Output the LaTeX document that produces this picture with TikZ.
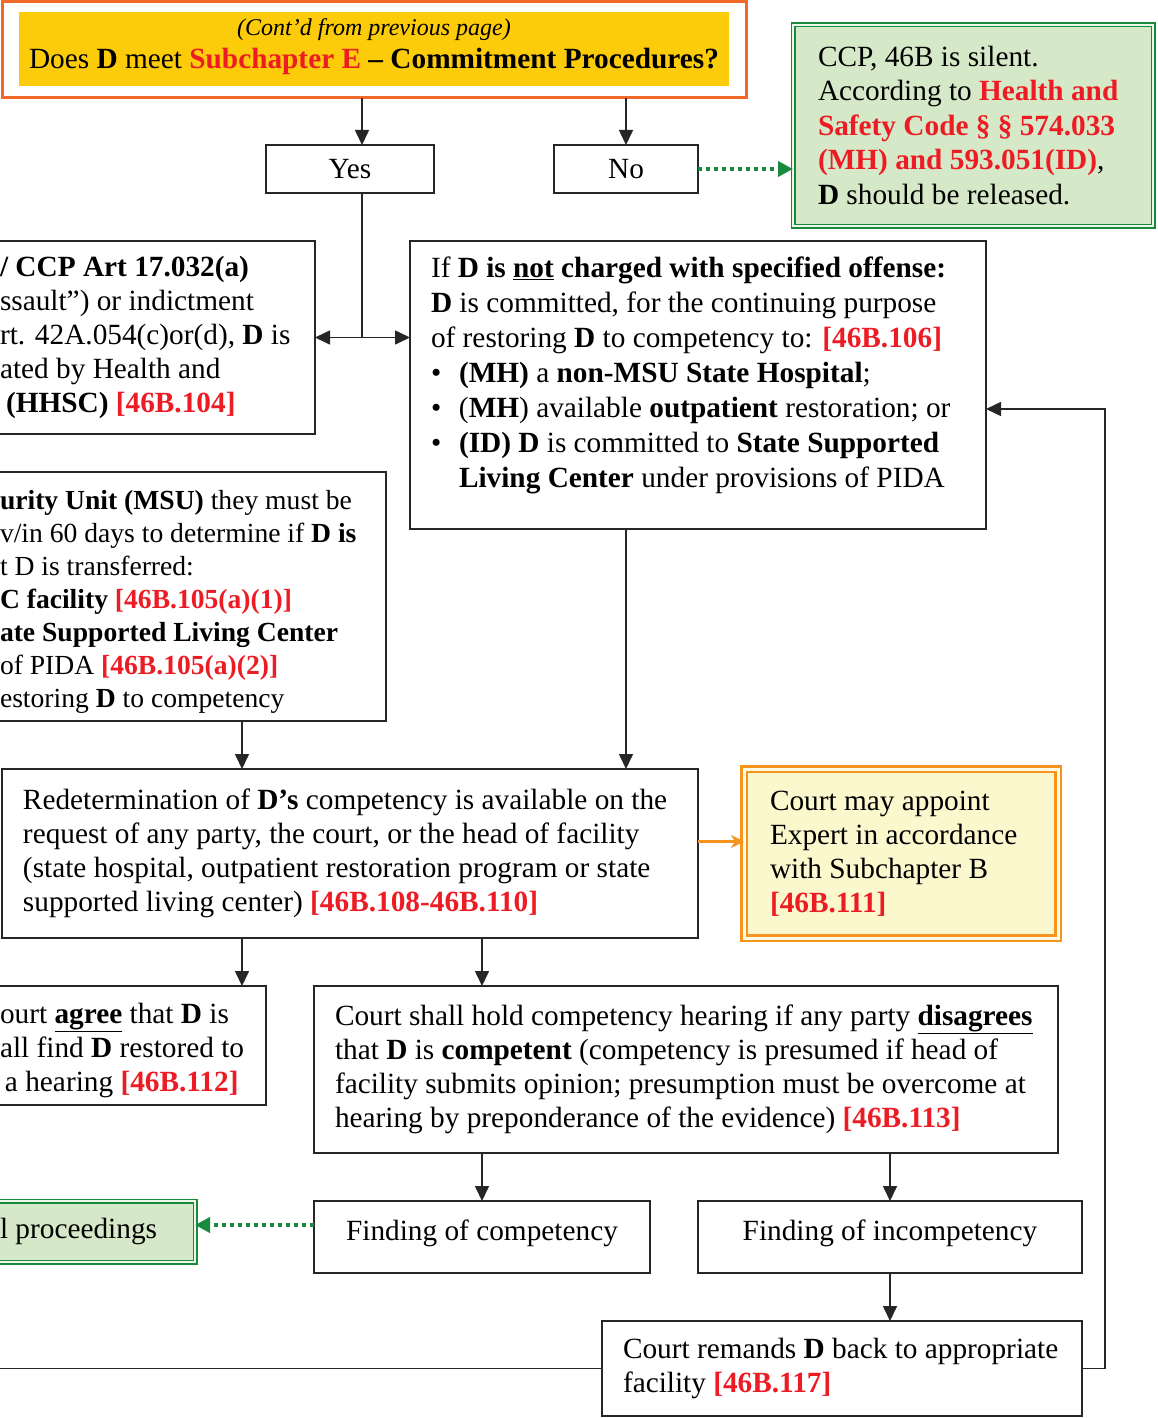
\documentclass[tikz,border=0pt]{standalone}
\usepackage{fontspec}
\setmainfont{Liberation Serif}
\usetikzlibrary{arrows.meta}
\definecolor{lawred}{RGB}{237,28,36}
\definecolor{toporange}{RGB}{242,106,42}
\definecolor{topyellow}{RGB}{252,203,10}
\definecolor{relgreen}{RGB}{23,138,62}
\definecolor{relfill}{RGB}{213,232,200}
\definecolor{expborder}{RGB}{247,148,29}
\definecolor{expfill}{RGB}{252,248,206}
\newcommand{\lawref}[1]{\textcolor{lawred}{\textbf{#1}}}

\begin{document}
\begin{tikzpicture}[x=1pt,y=-1pt,
  box/.style={draw=black!85, line width=1.6pt, outer sep=0pt, inner xsep=21pt, inner ysep=0pt,
    align=flush left, anchor=north west, font=\fontsize{29.3}{34}\selectfont},
  cutbox/.style={box, inner xsep=5pt},
  greenbox/.style={box, draw=relgreen, fill=relfill, double=relfill!40!white, double distance=2pt, line width=1.5pt},
  expbox/.style={box, draw=expborder, fill=expfill, double=expfill!50!white, double distance=3pt, line width=2.5pt},
  topbox/.style={draw=toporange, line width=3pt, fill=white, outer sep=0pt, anchor=north west,
    minimum width=744pt, minimum height=96pt, align=center, font=\fontsize{29.3}{33}\selectfont,
    path picture={\fill[topyellow] ([shift={(17,10)}]path picture bounding box.north west)
      rectangle ([shift={(-17,-12)}]path picture bounding box.south east);}},
  arr/.style={-{Triangle[length=15pt,width=14pt]}, line width=1.6pt, draw=black!85},
  dotarr/.style={-{Triangle[length=15pt,width=15pt]}, line width=4pt, dash pattern=on 4pt off 4pt, draw=relgreen},
  orarr/.style={-{Stealth[length=13pt,width=13pt,inset=4pt]}, line width=2.5pt, draw=expborder}
]
  \path[use as bounding box] (0,0) rectangle (1157,1418);
  \clip (0,0) rectangle (1157,1418);

  % question
  \node[topbox] (q) at (2,2) {{\itshape\fontsize{24}{26}\selectfont (Cont’d from previous page)}\\
    Does \textbf{D} meet \lawref{Subchapter E} \textbf{– Commitment Procedures?}\\[-20pt]\mbox{}};
  \node[box, align=flush center, text width=126pt, minimum height=48pt] (yes) at (266,145) {Yes};
  \node[box, align=flush center, text width=102pt, minimum height=48pt] (no) at (554,145) {No};
  \node[greenbox, text width=310pt, minimum height=201pt, inner xsep=25pt,
    font=\fontsize{29.3}{34.5}\selectfont] (rel) at (793,25) {CCP, 46B is silent.\\
    According to \lawref{Health and}\\
    \lawref{Safety Code § § 574.033}\\
    \lawref{(MH) and 593.051(ID)},\\
    \textbf{D} should be released.};

  % commitment
  \node[cutbox, text width=310pt, minimum height=193pt] (hhsc) at (-5,241) {\textbf{/ CCP Art 17.032(a)}\\
    ssault”) or indictment\\
    rt. 42A.054(c)or(d), \textbf{D} is\\
    ated by Health and\\
    \hspace*{6pt}\textbf{(HHSC)} \lawref{[46B.104]}};
  \node[box, text width=534pt, minimum height=288pt, font=\fontsize{29.3}{35}\selectfont] (ifnot) at (410,241) {If \textbf{D is \underline{not} charged with specified offense:}\\
    \textbf{D} is committed, for the continuing purpose\\
    of restoring \textbf{D} to competency to: \lawref{[46B.106]}\\
    \makebox[28pt][l]{\textbullet}\textbf{(MH)} a \textbf{non-MSU State Hospital};\\
    \makebox[28pt][l]{\textbullet}(\textbf{MH}) available \textbf{outpatient} restoration; or\\
    \makebox[28pt][l]{\textbullet}\textbf{(ID) D} is committed to \textbf{State Supported}\\
    \hspace*{28pt}\textbf{Living Center} under provisions of PIDA\\[-10pt]\mbox{}};
  \node[cutbox, text width=381pt, minimum height=249pt, font=\fontsize{27.6}{33}\selectfont] (msu) at (-5,472) {\mbox{}\\[-3pt]\textbf{urity Unit (MSU)} they must be\\
    v/in 60 days to determine if \textbf{D is}\\
    t D is transferred:\\
    \textbf{C facility} \lawref{[46B.105(a)(1)]}\\
    \textbf{ate Supported Living Center}\\
    of PIDA \lawref{[46B.105(a)(2)]}\\
    estoring \textbf{D} to competency};

  % redetermination
  \node[box, line width=2pt, text width=654pt, minimum height=169pt] (redet) at (2,769) {Redetermination of \textbf{D’s} competency is available on the\\
    request of any party, the court, or the head of facility\\
    (state hospital, outpatient restoration program or state\\
    supported living center) \lawref{[46B.108-46B.110]}};
  \node[expbox, text width=262pt, minimum height=169pt, inner xsep=26pt] (yel) at (744,769) {Court may appoint\\
    Expert in accordance\\
    with Subchapter B\\
    \lawref{[46B.111]}};
  \node[cutbox, text width=261pt, minimum height=119pt] (agree) at (-5,986) {\mbox{}\\[-4pt]ourt \textbf{\underline{agree}} that \textbf{D} is\\
    all find \textbf{D} restored to\\
    \hspace*{5pt}a hearing \lawref{[46B.112]}};
  \node[box, text width=706pt, minimum height=167pt, inner xsep=19pt] (hear) at (314,986) {\hspace*{2pt}Court shall hold competency hearing if any party \textbf{\underline{disagrees}}\\
    \hspace*{2pt}that \textbf{D} is \textbf{competent} (competency is presumed if head of\\
    \hspace*{2pt}facility submits opinion; presumption must be overcome at\\
    \hspace*{2pt}hearing by preponderance of the evidence) \lawref{[46B.113]}};

  % findings
  \node[box, align=flush center, text width=294pt, minimum height=72pt] (comp) at (314,1201) {Finding of competency\\[-20pt]\mbox{}};
  \node[box, align=flush center, text width=342pt, minimum height=72pt] (incomp) at (698,1201) {Finding of incompetency\\[-20pt]\mbox{}};
  \node[greenbox, text width=175pt, minimum height=61pt, inner xsep=20pt] (proc) at (-20,1201) {l proceedings};
  \node[box, text width=442pt, minimum height=95pt, inner xsep=19pt] (rem) at (602,1321) {\hspace*{2pt}Court remands \textbf{D} back to appropriate\\
    \hspace*{2pt}facility \lawref{[46B.117]}};

  % arrow ends off the box centres
  \coordinate (offleft) at (-10,1368.5);
  \coordinate (yesin) at ([xshift=12pt]yes.north);
  \coordinate (yesout) at ([xshift=12pt]yes.south);
  \coordinate (ifnotout) at ([xshift=-72pt]ifnot.south);
  \coordinate (msuout) at ([xshift=51.5pt]msu.south);
  \coordinate (redetout) at ([xshift=-108pt]redet.south);
  \coordinate (compout) at ([yshift=12pt]comp.west);
  \coordinate (redetside) at ([yshift=12pt]redet.east);

  % connections
  \foreach \a/\b in {
    yesin |- q.south/yesin,
    no.north |- q.south/no.north,
    ifnotout/ifnotout |- redet.north,
    msuout/msuout |- redet.north,
    redetout/redetout |- agree.north,
    comp.north |- redet.south/comp.north |- hear.north,
    comp.north |- hear.south/comp.north,
    incomp.north |- hear.south/incomp.north,
    incomp.south/incomp.south |- rem.north%
  } { \draw[arr] (\a) -- (\b); }

  \draw[arr, -] (yesout) -- (yesout |- hhsc.east) coordinate (split);
  \draw[arr] (split) -- (hhsc.east);
  \draw[arr] (split) -- (split -| ifnot.west);
  \draw[arr] (rem.east) -- ++(23,0) |- ([yshift=-24pt]ifnot.east);
  \draw[arr, -] (rem.west) -- (offleft);

  \draw[dotarr] (no.east) -- (no.east -| rel.west);
  \draw[dotarr] (compout) -- (compout -| proc.east);
  \draw[orarr] (redetside) -- (redetside -| yel.west);
\end{tikzpicture}
\end{document}
